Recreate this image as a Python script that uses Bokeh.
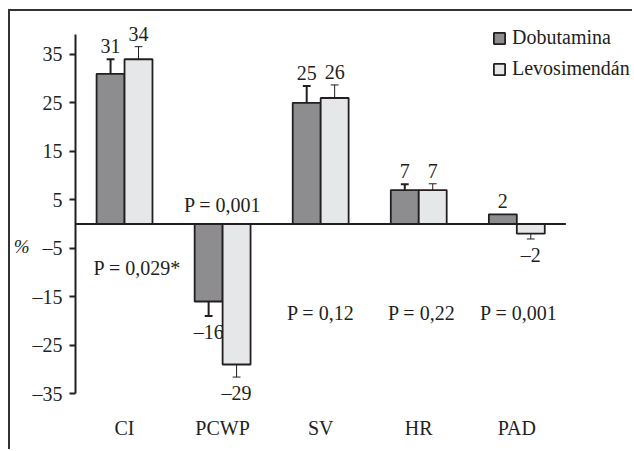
from bokeh.plotting import figure
from bokeh.models import (ColumnDataSource, FixedTicker, Legend, LegendItem,
                          LinearAxis, Range1d)
from bokeh.embed import file_html
from bokeh.resources import INLINE
from bokeh.core.properties import value
import numpy as np

# ---- data ----
categories = ["CI", "PCWP", "SV", "HR", "PAD"]
dobutamina = [31, -16, 25, 7, 2]
levosimendan = [34, -29, 26, 7, -2]
err_dobutamina = [3.0, 3.0, 3.5, 1.2, 0.0]
err_levosimendan = [2.6, 2.6, 2.7, 1.3, 1.1]
p_labels = ["P = 0,029*", "P = 0,001", "P = 0,12", "P = 0,22", "P = 0,001"]
y_ticks = [35, 25, 15, 5, -5, -15, -25, -35]
y_tick_labels = ["35", "25", "15", "5", "\u20135", "\u201315", "\u201325", "\u201335"]
unit_label = "%"

# ---- layout helpers ----
p_label_x = [0.63, 1.5, 2.5, 3.53, 4.52]
p_label_y = [-10.6, 2.4, -19.9, -19.9, -19.9]
unit_label_y = -4.6

FONT = value("Liberation Serif")
FS = "20px"
TXT = "#231f20"
DARK = "#8d8d8f"
LIGHT = "#e6e7e8"
BW = 0.285

centers = np.arange(len(categories)) + 0.5

p = figure(width=624, height=440, x_range=Range1d(0, 5.70),
           y_range=Range1d(-38.5, 42.0), output_backend="svg",
           toolbar_location=None, min_border_left=64, min_border_right=0,
           min_border_top=9, min_border_bottom=41)
p.styles = {"border-left": "2px solid #333333", "border-top": "2px solid #333333",
            "margin-left": "8px", "margin-top": "9px"}
p.outline_line_color = None
p.grid.visible = False
p.background_fill_color = "white"

def series(vals, errs, offset, fill, cap_w):
    vals = np.array(vals, dtype=float)
    errs = np.array(errs, dtype=float)
    xs = centers + offset
    ends = vals + np.sign(vals) * errs
    labs = [str(int(v)).replace("-", "\u2013") for v in vals]
    src = ColumnDataSource(dict(x=xs, top=vals))
    r = p.vbar(x="x", top="top", bottom=0, width=BW, source=src,
               fill_color=fill, line_color=TXT, line_width=1.8)
    has = errs > 0
    p.segment(x0=xs[has], y0=vals[has], x1=xs[has], y1=ends[has],
              line_color=TXT, line_width=cap_w)
    p.segment(x0=xs[has] - 0.04, y0=ends[has], x1=xs[has] + 0.04, y1=ends[has],
              line_color=TXT, line_width=cap_w)
    pos = vals > 0
    p.text(x=xs[pos], y=ends[pos], text=[l for l, k in zip(labs, pos) if k],
           text_font=FONT, text_font_size=FS, text_align="center",
           text_baseline="alphabetic", y_offset=-13, text_color=TXT)
    p.text(x=xs[~pos], y=ends[~pos], text=[l for l, k in zip(labs, pos) if not k],
           text_font=FONT, text_font_size=FS, text_align="center",
           text_baseline="alphabetic", y_offset=16, text_color=TXT)
    return r

r1 = series(dobutamina, err_dobutamina, -BW / 2, DARK, 2)
r2 = series(levosimendan, err_levosimendan, BW / 2, LIGHT, 1)

# zero line
p.segment(x0=0, y0=0, x1=len(categories), y1=0, line_color=TXT, line_width=2)

# P values
p.text(x=p_label_x, y=p_label_y, text=p_labels, text_font=FONT,
       text_font_size=FS, text_align="center", text_baseline="alphabetic",
       y_offset=-7, text_color=TXT)

# axes
ya = p.yaxis[0]
ya.ticker = FixedTicker(ticks=y_ticks)
ya.major_label_overrides = {t: l for t, l in zip(y_ticks, y_tick_labels)}
ya.bounds = (-35, 39.2)
ya.axis_line_color = TXT
ya.axis_line_width = 2
ya.major_tick_line_color = TXT
ya.major_tick_line_width = 2
ya.major_tick_out = 6
ya.major_tick_in = 0
ya.minor_tick_line_color = None
ya.major_label_standoff = 7
ya.major_label_text_font = "Liberation Serif"
ya.major_label_text_font_size = FS
ya.major_label_text_color = TXT

# unit axis ("%") placed left of the value axis
ua = LinearAxis(ticker=FixedTicker(ticks=[unit_label_y]))
ua.major_label_overrides = {unit_label_y: unit_label}
ua.axis_line_color = None
ua.major_tick_line_color = None
ua.minor_tick_line_color = None
ua.major_tick_out = 0
ua.major_tick_in = 0
ua.major_label_standoff = 0
ua.major_label_text_font = "Liberation Serif"
ua.major_label_text_font_style = "italic"
ua.major_label_text_font_size = "19px"
ua.major_label_text_color = TXT
p.add_layout(ua, "left")

xa = p.xaxis[0]
xa.ticker = FixedTicker(ticks=list(centers))
xa.major_label_overrides = {float(c): n for c, n in zip(centers, categories)}
xa.axis_line_color = None
xa.major_tick_line_color = None
xa.minor_tick_line_color = None
xa.major_tick_out = 0
xa.major_tick_in = 0
xa.major_label_standoff = 6
xa.major_label_text_font = "Liberation Serif"
xa.major_label_text_font_size = FS
xa.major_label_text_color = TXT

legend = Legend(items=[LegendItem(label="Dobutamina", renderers=[r1]),
                       LegendItem(label="Levosimendán", renderers=[r2])],
                location=(417, 330), glyph_width=14, glyph_height=14,
                label_standoff=6, spacing=8, padding=0, margin=0,
                border_line_color=None, background_fill_alpha=0,
                label_text_font="Liberation Serif", label_text_font_size=FS,
                label_text_color=TXT, label_height=20)
p.add_layout(legend)

open("out.html", "w").write(file_html(p, INLINE))
